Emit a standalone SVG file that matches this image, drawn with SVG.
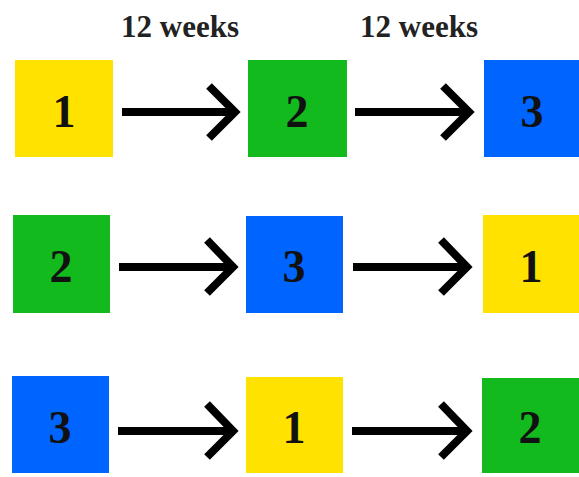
<svg xmlns="http://www.w3.org/2000/svg" width="579" height="477" viewBox="0 0 579 477">
<style>
.y{fill:#FFE200}
.g{fill:#12BA1E}
.b{fill:#0064FF}
.n{font-family:"Liberation Serif","Times New Roman",serif;font-weight:bold;font-size:46px;fill:#111;text-anchor:middle}
.lbl{font-family:"Liberation Serif","Times New Roman",serif;font-weight:bold;font-size:31px;fill:#222;text-anchor:middle}
.a{fill:none;stroke:#000;stroke-width:8;stroke-linejoin:miter;stroke-miterlimit:10}
</style>
<rect width="579" height="477" fill="#fff"/>
<text class="lbl" x="180" y="37">12 weeks</text>
<text class="lbl" x="419" y="37">12 weeks</text>
<g id="r1n1"><rect class="y" x="15" y="60" width="98" height="97"/><text class="n" x="64" y="127">1</text></g>
<g id="r1n2"><rect class="g" x="248" y="60" width="99" height="97"/><text class="n" x="297" y="127">2</text></g>
<g id="r1n3"><rect class="b" x="484" y="60" width="95" height="97"/><text class="n" x="532" y="127">3</text></g>
<g id="r2n1"><rect class="g" x="13" y="215" width="97" height="98"/><text class="n" x="61" y="282">2</text></g>
<g id="r2n2"><rect class="b" x="246" y="216" width="97" height="97"/><text class="n" x="294" y="282">3</text></g>
<g id="r2n3"><rect class="y" x="483" y="215" width="96" height="98"/><text class="n" x="531" y="282">1</text></g>
<g id="r3n1"><rect class="b" x="12" y="376" width="97" height="97"/><text class="n" x="60" y="443">3</text></g>
<g id="r3n2"><rect class="y" x="246" y="377" width="97" height="96"/><text class="n" x="294" y="443">1</text></g>
<g id="r3n3"><rect class="g" x="482" y="378" width="97" height="95"/><text class="n" x="530" y="443">2</text></g>
<g id="connectors">
<path class="a" d="M122 112H234M209 86L235 112L209 138"/>
<path class="a" d="M355 112H468M443 86L469 112L443 138"/>
<path class="a" d="M119 267H231M207 240L233 267L207 293"/>
<path class="a" d="M353 267H466M441 240L467 267L441 293"/>
<path class="a" d="M118 431H231M207 404L233 431L207 457"/>
<path class="a" d="M352 431H466M441 404L467 431L441 457"/>
</g>
</svg>
